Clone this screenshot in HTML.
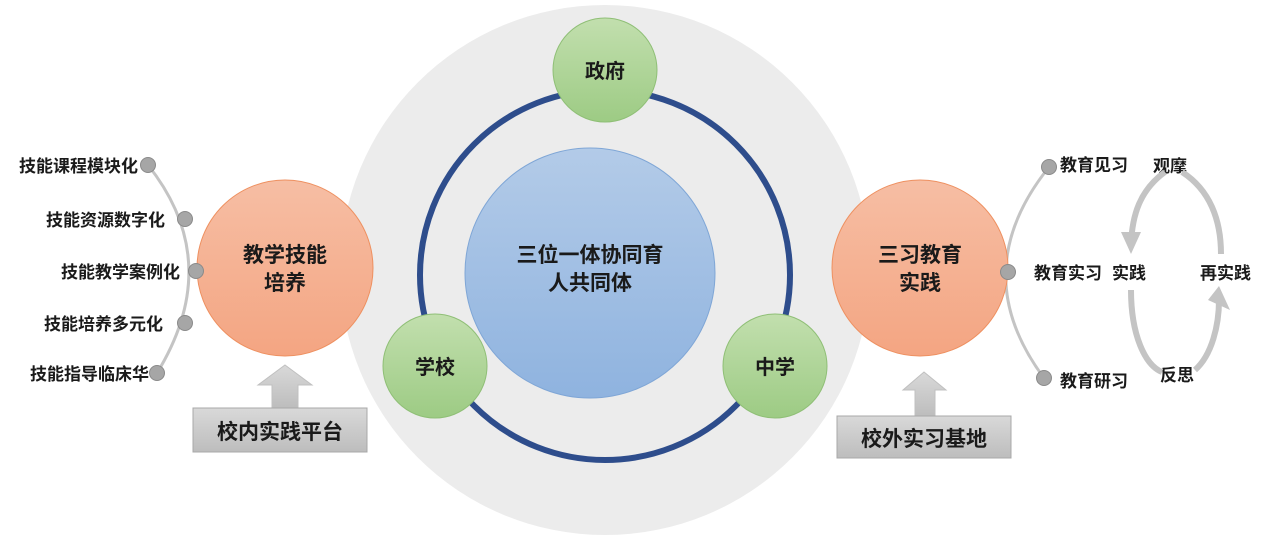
<!DOCTYPE html>
<html><head><meta charset="utf-8"><style>
body{margin:0;background:#fff;}
text{font-family:"Liberation Sans","Noto Sans CJK SC",sans-serif;font-weight:bold;fill:#1a1a1a;}
</style></head><body>
<svg width="1268" height="537" viewBox="0 0 1268 537" xmlns="http://www.w3.org/2000/svg">
<defs>
<linearGradient id="bl" x1="0" y1="0" x2="0" y2="1"><stop offset="0" stop-color="#b3cbe8"/><stop offset="1" stop-color="#8fb3df"/></linearGradient>
<linearGradient id="gr" x1="0" y1="0" x2="0" y2="1"><stop offset="0" stop-color="#c2dfae"/><stop offset="1" stop-color="#9dcb84"/></linearGradient>
<linearGradient id="or" x1="0" y1="0" x2="0" y2="1"><stop offset="0" stop-color="#f6bea4"/><stop offset="1" stop-color="#f4a582"/></linearGradient>
<linearGradient id="bx" x1="0" y1="0" x2="0" y2="1"><stop offset="0" stop-color="#d9d9d9"/><stop offset="1" stop-color="#bdbdbd"/></linearGradient>
</defs>
<circle cx="605" cy="270" r="265" fill="#ececec"/>
<circle cx="605" cy="275" r="185" fill="none" stroke="#2e4d8c" stroke-width="6"/>
<circle cx="590" cy="273" r="125" fill="url(#bl)" stroke="#7fa6d6" stroke-width="1"/>
<text x="590" y="262" font-size="21" text-anchor="middle">三位一体协同育</text>
<text x="590" y="290" font-size="21" text-anchor="middle">人共同体</text>
<circle cx="605" cy="70" r="52" fill="url(#gr)" stroke="#8fbf76"/>
<text x="605" y="78" font-size="20" text-anchor="middle">政府</text>
<circle cx="435" cy="366" r="52" fill="url(#gr)" stroke="#8fbf76"/>
<text x="435" y="374" font-size="20" text-anchor="middle">学校</text>
<circle cx="775" cy="366" r="52" fill="url(#gr)" stroke="#8fbf76"/>
<text x="775" y="374" font-size="20" text-anchor="middle">中学</text>

<!-- left -->
<path d="M148,165 Q225,262 157,373" fill="none" stroke="#c4c4c4" stroke-width="3"/>
<circle cx="285" cy="268" r="88" fill="url(#or)" stroke="#ee9060"/>
<text x="285" y="262" font-size="21" text-anchor="middle">教学技能</text>
<text x="285" y="290" font-size="21" text-anchor="middle">培养</text>
<g fill="#a6a6a6" stroke="#8a8a8a">
<circle cx="148" cy="165" r="7.5"/><circle cx="185" cy="219" r="7.5"/><circle cx="196" cy="271" r="7.5"/><circle cx="185" cy="323" r="7.5"/><circle cx="157" cy="373" r="7.5"/>
</g>
<g font-size="17" text-anchor="end">
<text x="138" y="172">技能课程模块化</text>
<text x="165" y="226">技能资源数字化</text>
<text x="180" y="278">技能教学案例化</text>
<text x="163" y="330">技能培养多元化</text>
<text x="149" y="380">技能指导临床华</text>
</g>
<polygon points="285,365 312,385 298,385 298,408 272,408 272,385 258,385" fill="url(#bx)" stroke="#c0c0c0"/>
<rect x="193" y="408" width="174" height="44" fill="url(#bx)" stroke="#a8a8a8"/>
<text x="280" y="439" font-size="21" text-anchor="middle">校内实践平台</text>

<!-- right -->
<path d="M1049,167 Q965,272 1044,378" fill="none" stroke="#c4c4c4" stroke-width="3"/>
<circle cx="920" cy="268" r="88" fill="url(#or)" stroke="#ee9060"/>
<text x="920" y="262" font-size="21" text-anchor="middle">三习教育</text>
<text x="920" y="290" font-size="21" text-anchor="middle">实践</text>
<g fill="#a6a6a6" stroke="#8a8a8a">
<circle cx="1049" cy="167" r="7.5"/><circle cx="1008" cy="272" r="7.5"/><circle cx="1044" cy="378" r="7.5"/>
</g>
<g font-size="17">
<text x="1060" y="171">教育见习</text>
<text x="1034" y="279">教育实习</text>
<text x="1060" y="387">教育研习</text>
<text x="1112" y="279">实践</text>
<text x="1200" y="279">再实践</text>
<text x="1153" y="172">观摩</text>
<text x="1160" y="381">反思</text>
</g>
<g fill="none" stroke="#c4c4c4" stroke-width="6">
<path d="M1165,172 C1140,190 1132,215 1131,245"/>
<path d="M1182,172 C1210,190 1221,220 1221,254"/>
<path d="M1131,290 C1131,335 1145,365 1162,372"/>
<path d="M1195,370 C1212,355 1219,325 1219,300"/>
</g>
<polygon points="1121,232 1141,232 1131,254" fill="#c4c4c4"/>
<polygon points="1208,300 1230,310 1219,286" fill="#c4c4c4"/>

<polygon points="924,372 946,390 935,390 935,416 915,416 915,390 903,390" fill="url(#bx)" stroke="#c0c0c0"/>
<rect x="837" y="416" width="174" height="42" fill="url(#bx)" stroke="#a8a8a8"/>
<text x="924" y="446" font-size="21" text-anchor="middle">校外实习基地</text>
</svg>
</body></html>
